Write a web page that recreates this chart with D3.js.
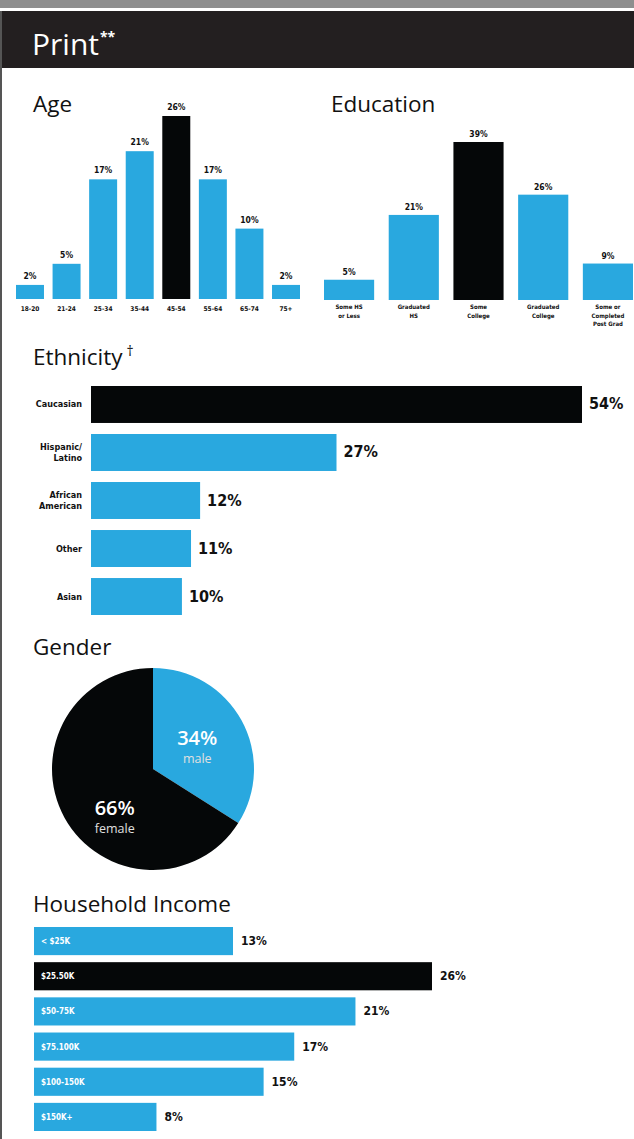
<!DOCTYPE html>
<html>
<head>
<meta charset="utf-8">
<script src="https://cdn.jsdelivr.net/npm/d3@7"></script>
<style>
  body { margin: 0; background: #fff; }
  svg { display: block; }
  .title { font-family: "Open Sans", sans-serif; font-size: 22.5px; fill: #111; }
  .small { font-family: "Liberation Sans Narrow", "DejaVu Sans Condensed", sans-serif; font-stretch: condensed; font-weight: bold; fill: #111; }
</style>
</head>
<body>
<div id="container"></div>
<script>
// values
var ageCats = ["18-20", "21-24", "25-34", "35-44", "45-54", "55-64", "65-74", "75+"];
var ageVals = [2, 5, 17, 21, 26, 17, 10, 2];

var eduCats = [["Some HS", "or Less"], ["Graduated", "HS"], ["Some", "College"], ["Graduated", "College"], ["Some or", "Completed", "Post Grad"]];
var eduVals = [5, 21, 39, 26, 9];

var ethCats = [["Caucasian"], ["Hispanic/", "Latino"], ["African", "American"], ["Other"], ["Asian"]];
var ethVals = [54, 27, 12, 11, 10];

var genderCats = ["male", "female"];
var genderVals = [34, 66];

var incomeCats = ["< $25K", "$25.50K", "$50-75K", "$75.100K", "$100-150K", "$150K+"];
var incomeVals = [13, 26, 21, 17, 15, 8];

var blue = "#29a8df", black = "#050708";
function fillFor(vals) {
  var m = d3.max(vals);
  return function(v) { return v === m ? black : blue; };
}

var svg = d3.select("#container").append("svg")
  .attr("width", 634).attr("height", 1139);

// frame + header
svg.append("rect").attr("x", 0).attr("y", 0).attr("width", 634).attr("height", 8).attr("fill", "#8e8e8e");
svg.append("rect").attr("x", 0).attr("y", 11).attr("width", 634).attr("height", 57).attr("fill", "#231f20");
svg.append("rect").attr("x", 0).attr("y", 11).attr("width", 2).attr("height", 1128).attr("fill", "#555");
svg.append("text").attr("x", 32).attr("y", 55)
  .attr("font-family", "Open Sans, sans-serif").attr("font-size", 30).attr("fill", "#fff")
  .text("Print")
  .append("tspan").attr("font-size", 14).attr("dy", -13).attr("dx", 1).attr("font-weight", "bold").text("**");

// ---- Age
svg.append("text").attr("class", "title").attr("x", 33).attr("y", 112).text("Age");
var ageX = d3.scaleBand().domain(ageCats).range([16, 300]).paddingInner(0.235);
var ageY = d3.scaleLinear().domain([0, 26]).range([299, 116]);
var ageFill = fillFor(ageVals);
var age = svg.append("g");
age.selectAll("rect").data(ageVals).enter().append("rect")
  .attr("x", function(d, i) { return ageX(ageCats[i]); })
  .attr("y", function(d) { return ageY(d); })
  .attr("width", ageX.bandwidth())
  .attr("height", function(d) { return ageY(0) - ageY(d); })
  .attr("fill", ageFill);
age.selectAll(".val").data(ageVals).enter().append("text").attr("class", "small val")
  .attr("x", function(d, i) { return ageX(ageCats[i]) + ageX.bandwidth() / 2; })
  .attr("y", function(d) { return ageY(d) - 6; })
  .attr("text-anchor", "middle").attr("font-size", 8.5)
  .text(function(d) { return d + "%"; });
age.selectAll(".cat").data(ageCats).enter().append("text").attr("class", "small cat")
  .attr("x", function(d) { return ageX(d) + ageX.bandwidth() / 2; })
  .attr("y", 311).attr("text-anchor", "middle").attr("font-size", 6.5)
  .text(function(d) { return d; });

// ---- Education
svg.append("text").attr("class", "title").attr("x", 331).attr("y", 112).text("Education");
var eduX = d3.scaleBand().domain(d3.range(eduVals.length)).range([324, 633]).paddingInner(0.225);
var eduY = d3.scaleLinear().domain([0, 39]).range([300, 142]);
var eduFill = fillFor(eduVals);
var edu = svg.append("g");
edu.selectAll("rect").data(eduVals).enter().append("rect")
  .attr("x", function(d, i) { return eduX(i); })
  .attr("y", function(d) { return eduY(d); })
  .attr("width", eduX.bandwidth())
  .attr("height", function(d) { return eduY(0) - eduY(d); })
  .attr("fill", eduFill);
edu.selectAll(".val").data(eduVals).enter().append("text").attr("class", "small val")
  .attr("x", function(d, i) { return eduX(i) + eduX.bandwidth() / 2; })
  .attr("y", function(d) { return eduY(d) - 5; })
  .attr("text-anchor", "middle").attr("font-size", 8.5)
  .text(function(d) { return d + "%"; });
edu.selectAll(".cat").data(eduCats).enter().append("text").attr("class", "small cat")
  .attr("text-anchor", "middle").attr("font-size", 6)
  .each(function(lines, i) {
    var t = d3.select(this);
    lines.forEach(function(l, j) {
      t.append("tspan").attr("x", eduX(i) + eduX.bandwidth() / 2).attr("y", 309 + j * 8.5).text(l);
    });
  });

// ---- Ethnicity
var eth = svg.append("g");
var ethTitle = eth.append("text").attr("class", "title").attr("x", 33).attr("y", 365).text("Ethnicity");
ethTitle.append("tspan").attr("font-size", 14).attr("dx", 4).attr("dy", -9).text("†");
var ethX = d3.scaleLinear().domain([0, 54]).range([91, 582]);
var ethY = d3.scaleBand().domain(d3.range(ethVals.length)).range([386, 615]).paddingInner(0.23);
var ethFill = fillFor(ethVals);
eth.selectAll("rect").data(ethVals).enter().append("rect")
  .attr("x", ethX(0))
  .attr("y", function(d, i) { return ethY(i); })
  .attr("width", function(d) { return ethX(d) - ethX(0); })
  .attr("height", ethY.bandwidth())
  .attr("fill", ethFill);
eth.selectAll(".val").data(ethVals).enter().append("text").attr("class", "small val")
  .attr("x", function(d) { return ethX(d) + 7; })
  .attr("y", function(d, i) { return ethY(i) + ethY.bandwidth() / 2 + 5; })
  .attr("font-size", 16)
  .text(function(d) { return d + "%"; });
eth.selectAll(".cat").data(ethCats).enter().append("text").attr("class", "small cat")
  .attr("text-anchor", "end").attr("font-size", 9)
  .each(function(lines, i) {
    var t = d3.select(this);
    var mid = ethY(i) + ethY.bandwidth() / 2 + 3;
    lines.forEach(function(l, j) {
      t.append("tspan").attr("x", 82).attr("y", mid + (j - (lines.length - 1) / 2) * 11).text(l);
    });
  });

// ---- Gender
svg.append("text").attr("class", "title").attr("x", 33).attr("y", 655).text("Gender");
var pieData = d3.pie().sort(null)(genderVals);
var radius = 101;
var arc = d3.arc().innerRadius(0).outerRadius(radius);
var pieFill = fillFor(genderVals);
var pie = svg.append("g").attr("transform", "translate(153,769)");
pie.selectAll("path").data(pieData).enter().append("path")
  .attr("d", arc)
  .attr("fill", function(d) { return pieFill(d.value); });
// big slice label sits a bit lower than its centroid
var nudge = function(d) { return d.value > 50 ? [6, 22] : [0, 0]; };
var lbl = pie.selectAll(".lbl").data(pieData).enter().append("text")
  .attr("text-anchor", "middle").attr("fill", "#fff")
  .attr("font-family", "Open Sans, sans-serif")
  .attr("transform", function(d) {
    var c = arc.centroid(d), n = nudge(d);
    return "translate(" + (c[0] + n[0]) + "," + (c[1] + n[1]) + ")";
  });
lbl.append("tspan").attr("x", 0).attr("y", 0).attr("font-size", 20).attr("font-weight", 600)
  .text(function(d) { return d.value + "%"; });
lbl.append("tspan").attr("x", 0).attr("y", 18).attr("font-size", 12.5).attr("fill", "#e0e0e0")
  .text(function(d, i) { return genderCats[i]; });

// ---- Household Income
svg.append("text").attr("class", "title").attr("x", 33).attr("y", 912).text("Household Income");
var incX = d3.scaleLinear().domain([0, 26]).range([34, 432]);
var incY = d3.scaleBand().domain(d3.range(incomeVals.length)).range([927, 1131]).paddingInner(0.2);
var incFill = fillFor(incomeVals);
var inc = svg.append("g");
inc.selectAll("rect").data(incomeVals).enter().append("rect")
  .attr("x", incX(0))
  .attr("y", function(d, i) { return incY(i); })
  .attr("width", function(d) { return incX(d) - incX(0); })
  .attr("height", incY.bandwidth())
  .attr("fill", incFill);
inc.selectAll(".cat").data(incomeCats).enter().append("text").attr("class", "small cat")
  .attr("x", 41)
  .attr("y", function(d, i) { return incY(i) + incY.bandwidth() / 2 + 3; })
  .attr("font-size", 8).style("fill", "#fff")
  .text(function(d) { return d; });
inc.selectAll(".val").data(incomeVals).enter().append("text").attr("class", "small val")
  .attr("x", function(d) { return incX(d) + 8; })
  .attr("y", function(d, i) { return incY(i) + incY.bandwidth() / 2 + 4; })
  .attr("font-size", 12)
  .text(function(d) { return d + "%"; });
</script>
</body>
</html>
